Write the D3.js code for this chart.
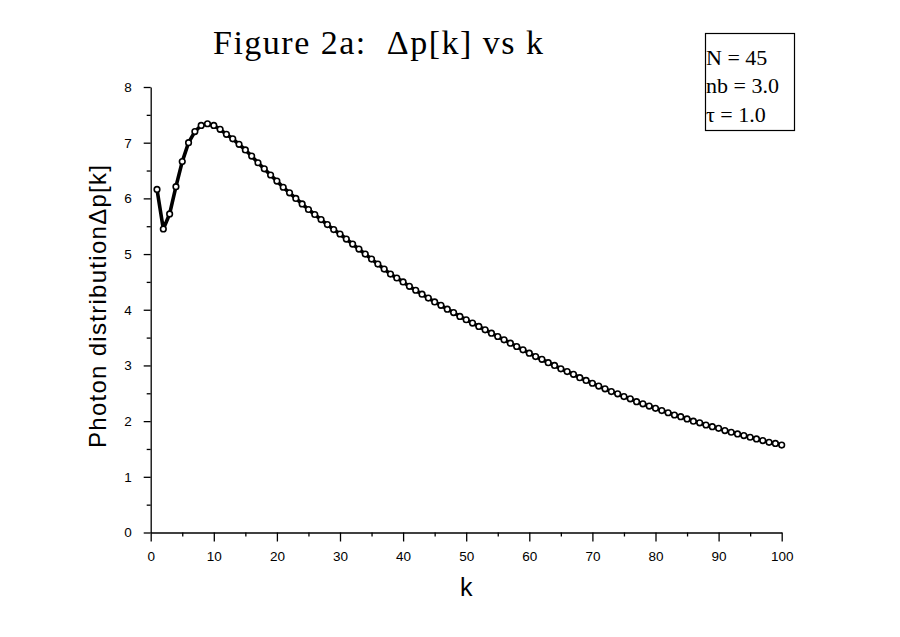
<!DOCTYPE html>
<html>
<head>
  <meta charset="utf-8">
  <title>Figure 2a</title>
  <style>
    body { margin: 0; background: #fff; }
    .tick text { font-family: "Liberation Sans", Arial, sans-serif; font-size: 13.5px; fill: #000; }
    .axis path, .axis line { stroke: #000; stroke-width: 1.3; }
  </style>
</head>
<body>
  <script src="https://d3js.org/d3.v7.min.js"></script>
  <script>
// data: k = 1..100
var kValues = d3.range(1, 101);
var dp = [
  6.16, 5.45, 5.72, 6.21, 6.66, 7.00, 7.20, 7.31, 7.34, 7.31,
  7.24, 7.15, 7.07, 6.97, 6.87, 6.76, 6.64, 6.53, 6.42, 6.31,
  6.20, 6.10, 6.00, 5.90, 5.80, 5.71, 5.62, 5.53, 5.44, 5.36,
  5.27, 5.18, 5.09, 5.00, 4.91, 4.82, 4.73, 4.64, 4.57, 4.50,
  4.42, 4.35, 4.28, 4.21, 4.14, 4.08, 4.01, 3.95, 3.88, 3.82,
  3.76, 3.70, 3.64, 3.58, 3.52, 3.46, 3.40, 3.34, 3.28, 3.22,
  3.16, 3.11, 3.05, 3.00, 2.94, 2.89, 2.84, 2.78, 2.73, 2.68,
  2.63, 2.58, 2.53, 2.49, 2.44, 2.40, 2.35, 2.31, 2.27, 2.23,
  2.19, 2.15, 2.11, 2.08, 2.04, 2.00, 1.97, 1.93, 1.90, 1.87,
  1.83, 1.80, 1.77, 1.74, 1.71, 1.68, 1.65, 1.62, 1.60, 1.57
];
var xTicks = d3.range(0, 101, 10);
var xMinor = d3.range(5, 100, 10);
var yTicks = d3.range(0, 9, 1);
var yMinor = d3.range(0.5, 8, 1);
var legendLines = ["N = 45", "nb = 3.0", "\u03c4 = 1.0"];

var width = 900, height = 637;

var svg = d3.select("body")
  .append("svg")
  .attr("width", width)
  .attr("height", height);

var x = d3.scaleLinear().domain([0, 100]).range([150.7, 781.7]);
var y = d3.scaleLinear().domain([0, 8]).range([532.5, 87]);

// minor ticks first, then major axes on top
svg.append("g")
  .attr("class", "axis")
  .attr("transform", "translate(0," + y(0) + ")")
  .call(d3.axisBottom(x).tickValues(xMinor).tickSize(4).tickFormat(""))
  .select(".domain").remove();

svg.append("g")
  .attr("class", "axis")
  .attr("transform", "translate(" + x(0) + ",0)")
  .call(d3.axisLeft(y).tickValues(yMinor).tickSize(4).tickFormat(""))
  .select(".domain").remove();

svg.append("g")
  .attr("class", "axis")
  .attr("transform", "translate(0," + y(0) + ")")
  .call(d3.axisBottom(x).tickValues(xTicks).tickSizeInner(9).tickSizeOuter(0).tickPadding(10));

svg.append("g")
  .attr("class", "axis")
  .attr("transform", "translate(" + x(0) + ",0)")
  .call(d3.axisLeft(y).tickValues(yTicks).tickSizeInner(7).tickSizeOuter(0).tickPadding(12));

// curve
var line = d3.line()
  .x(function(d, i) { return x(kValues[i]); })
  .y(function(d) { return y(d); });

svg.append("path")
  .datum(dp)
  .attr("d", line)
  .attr("fill", "none")
  .attr("stroke", "#000")
  .attr("stroke-width", 3.6)
  .attr("stroke-linejoin", "round");

svg.selectAll("circle.pt")
  .data(dp)
  .enter()
  .append("circle")
  .attr("class", "pt")
  .attr("cx", function(d, i) { return x(kValues[i]); })
  .attr("cy", function(d) { return y(d); })
  .attr("r", 2.8)
  .attr("fill", "#fff")
  .attr("stroke", "#000")
  .attr("stroke-width", 1.6);

// title
svg.append("text")
  .attr("x", 213)
  .attr("y", 54)
  .attr("xml:space", "preserve")
  .style("white-space", "pre")
  .attr("textLength", 330)
  .attr("lengthAdjust", "spacing")
  .style("font-family", "'Liberation Serif', 'Times New Roman', serif")
  .style("font-size", "34px")
  .text("Figure 2a:  \u0394p[k] vs k");

// axis labels
svg.append("text")
  .attr("x", x(50))
  .attr("y", 596)
  .attr("text-anchor", "middle")
  .style("font-family", "'Liberation Sans', Arial, sans-serif")
  .style("font-size", "25px")
  .text("k");

svg.append("text")
  .attr("transform", "translate(106,448) rotate(-90)")
  .attr("textLength", 283)
  .attr("lengthAdjust", "spacing")
  .style("font-family", "'Liberation Sans', Arial, sans-serif")
  .style("font-size", "24px")
  .text("Photon distribution\u0394p[k]");

// parameter box
var box = svg.append("g");
box.append("rect")
  .attr("x", 705.5)
  .attr("y", 33.5)
  .attr("width", 89)
  .attr("height", 97)
  .attr("fill", "#fff")
  .attr("stroke", "#000")
  .attr("stroke-width", 1.2);

box.selectAll("text")
  .data(legendLines)
  .enter()
  .append("text")
  .attr("x", 706)
  .attr("y", function(d, i) { return 65 + i * 28.3; })
  .style("font-family", "'Liberation Serif', 'Times New Roman', serif")
  .style("font-size", "22px")
  .text(function(d) { return d; });
  </script>
</body>
</html>
